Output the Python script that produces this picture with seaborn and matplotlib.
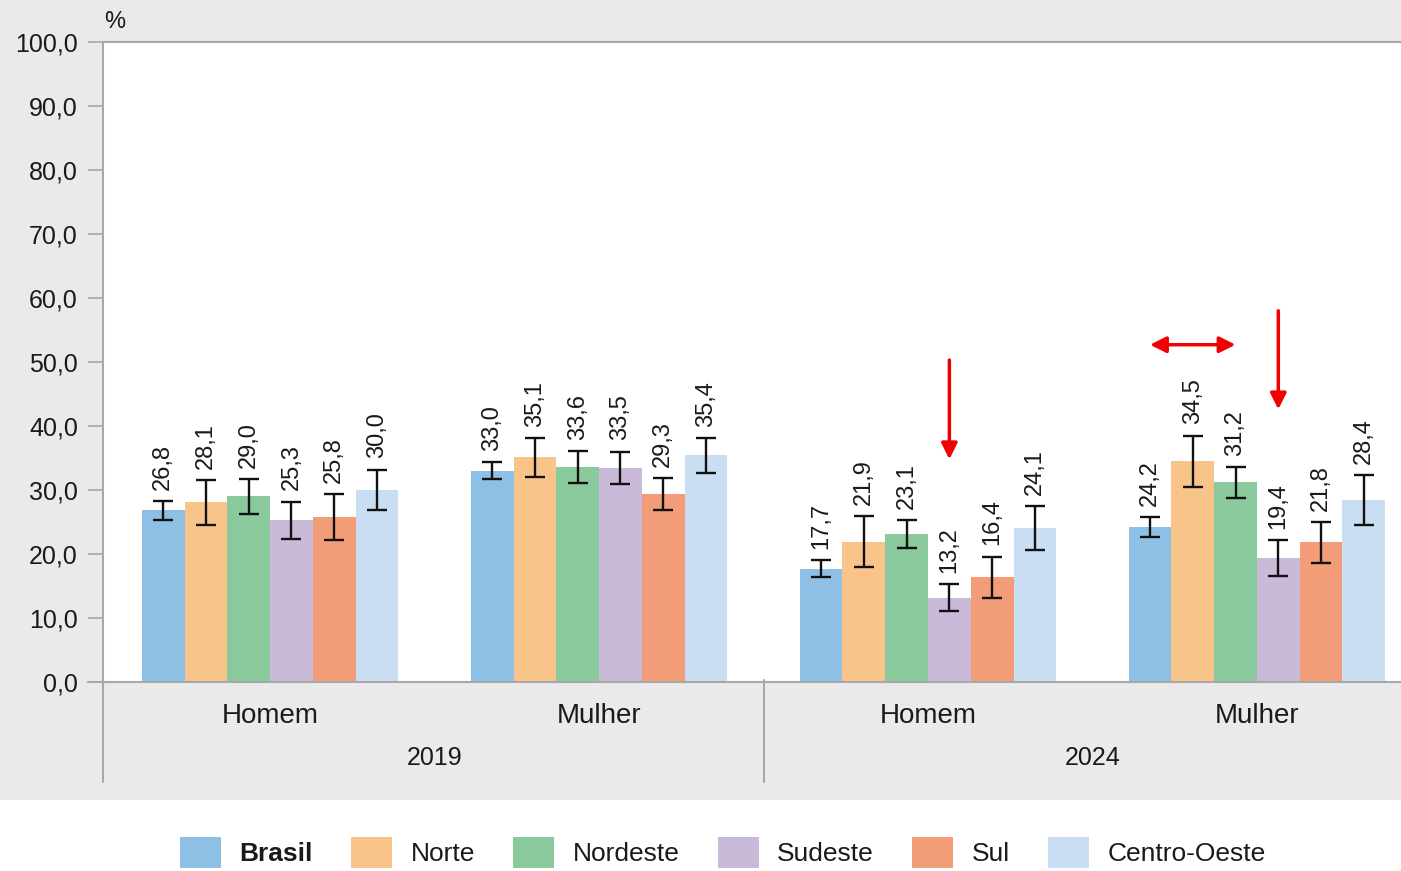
import pandas as pd
import numpy as np
import matplotlib.pyplot as plt
import matplotlib.transforms as mtransforms
from matplotlib.ticker import FuncFormatter
import seaborn as sns

# dados
grupos = ['2019 Homem', '2019 Mulher', '2024 Homem', '2024 Mulher']
rotulos_sexo = ['Homem', 'Mulher', 'Homem', 'Mulher']
anos = ['2019', '2024']
regioes = ['Brasil', 'Norte', 'Nordeste', 'Sudeste', 'Sul', 'Centro-Oeste']

brasil = [26.8, 33.0, 17.7, 24.2]
norte = [28.1, 35.1, 21.9, 34.5]
nordeste = [29.0, 33.6, 23.1, 31.2]
sudeste = [25.3, 33.5, 13.2, 19.4]
sul = [25.8, 29.3, 16.4, 21.8]
centro_oeste = [30.0, 35.4, 24.1, 28.4]

# meia-amplitude do intervalo de confiança (estimado)
erro_brasil = [1.5, 1.3, 1.3, 1.6]
erro_norte = [3.5, 3.0, 4.0, 4.0]
erro_nordeste = [2.7, 2.5, 2.2, 2.4]
erro_sudeste = [2.9, 2.5, 2.1, 2.8]
erro_sul = [3.6, 2.5, 3.2, 3.2]
erro_centro_oeste = [3.2, 2.7, 3.4, 3.9]

cores = ['#8EC0E6', '#F9C489', '#89C99C', '#C9BAD9', '#F29D77', '#C9DEF2']


def main():
    valores = [brasil, norte, nordeste, sudeste, sul, centro_oeste]
    erros = [erro_brasil, erro_norte, erro_nordeste, erro_sudeste, erro_sul, erro_centro_oeste]

    linhas = []
    for reg, vals, errs in zip(regioes, valores, erros):
        for g, v, e in zip(grupos, vals, errs):
            linhas.append({'grupo': g, 'regiao': reg, 'valor': v, 'erro': e})
    df = pd.DataFrame(linhas)

    sns.set_style('white')
    plt.rcParams['font.family'] = ['Liberation Sans', 'DejaVu Sans']

    cor_fundo = '#EAEAEA'
    cor_texto = '#1A1A1A'
    cor_linha = '#A8A8A8'

    fig = plt.figure(figsize=(14.01, 8.71), dpi=100)
    fig.patch.set_facecolor('white')
    fig.patches.append(plt.Rectangle((0, 1 - 800 / 871), 1, 800 / 871, transform=fig.transFigure,
                                     facecolor=cor_fundo, edgecolor='none', zorder=-10))

    ax = fig.add_axes([103 / 1401, 1 - 682 / 871, 1 - 103 / 1401, 640 / 871])
    ax.set_facecolor('white')

    sns.barplot(data=df, x='grupo', y='valor', hue='regiao', order=grupos, hue_order=regioes,
                palette=dict(zip(regioes, cores)), width=0.78, errorbar=None,
                saturation=1, linewidth=0, ax=ax)

    # barras de erro e rótulos
    for c, reg in enumerate(regioes):
        sub = df[df['regiao'] == reg].set_index('grupo').loc[grupos]
        cont = ax.containers[c]
        xs = [b.get_x() + b.get_width() / 2 for b in cont]
        ax.errorbar(xs, sub['valor'], yerr=sub['erro'], fmt='none', ecolor='#111111',
                    elinewidth=1.7, capsize=7, capthick=1.7, zorder=5)
        for x, v, e in zip(xs, sub['valor'], sub['erro']):
            ax.annotate(f"{v:.1f}".replace('.', ','), xy=(x, v + e), xytext=(0, 8),
                        textcoords='offset points', rotation=90, ha='center', va='bottom',
                        fontsize=17, color=cor_texto)

    ax.set_xlim(-0.508, 3.438)
    ax.set_ylim(0, 100)
    ax.set_yticks(np.arange(0, 101, 10))
    ax.yaxis.set_major_formatter(FuncFormatter(lambda v, _: f"{v:.1f}".replace('.', ',')))
    ax.set_xticks(range(len(grupos)))
    ax.set_xticklabels(rotulos_sexo)
    ax.set_xlabel('')
    ax.set_ylabel('')
    ax.tick_params(axis='y', length=11, width=1.2, color=cor_linha, pad=7,
                   labelsize=18, labelcolor=cor_texto, left=True)
    ax.tick_params(axis='x', length=0, pad=15, labelsize=20, labelcolor=cor_texto)

    for lado in ['left', 'top', 'bottom']:
        ax.spines[lado].set_color(cor_linha)
        ax.spines[lado].set_linewidth(1.5)
    ax.spines['right'].set_visible(False)

    # linhas separadoras abaixo do eixo
    ax.plot([0, 0], [0, -100 / 640], transform=ax.transAxes, color=cor_linha, lw=1.5, clip_on=False)
    trans = mtransforms.blended_transform_factory(ax.transData, ax.transAxes)
    ax.plot([1.5, 1.5], [0.003, -100 / 640], transform=trans, color=cor_linha, lw=1.5, clip_on=False)
    ax.plot([-0.508 - 15 / 329, -0.508], [0, 0], transform=trans, color=cor_linha, lw=1.5, clip_on=False)

    for i, ano in enumerate(anos):
        ax.text(2 * i + 0.5, -76 / 640, ano, transform=trans, ha='center', va='center',
                fontsize=18, color=cor_texto)

    ax.text(12 / 1298, 1.0 + 20 / 640, '%', transform=ax.transAxes,
            ha='center', va='center', fontsize=17, color=cor_texto)

    # setas vermelhas
    seta = dict(arrowstyle='-|>', color='#F00000', lw=2.5, mutation_scale=24, shrinkA=0, shrinkB=0)
    sud = ax.containers[3]
    for j, (y0, y1) in zip([2, 3], [(50.3, 34.8), (58.0, 42.6)]):
        b = sud[j]
        xc = b.get_x() + b.get_width() / 2
        ax.annotate('', xy=(xc, y1), xytext=(xc, y0), arrowprops=seta)
    b0 = ax.containers[0][3]
    b2 = ax.containers[2][3]
    seta2 = dict(seta, arrowstyle='<|-|>')
    ax.annotate('', xy=(b2.get_x() + b2.get_width() / 2, 52.7),
                xytext=(b0.get_x() + b0.get_width() / 2, 52.7), arrowprops=seta2)

    handles, labels = ax.get_legend_handles_labels()
    ax.get_legend().remove()
    leg = fig.legend(handles, labels, loc='center', bbox_to_anchor=(0.516, 0.021), ncol=6,
                     frameon=False, fontsize=19, handlelength=1.55, handleheight=1.45,
                     handletextpad=0.7, columnspacing=1.45)
    for t in leg.get_texts():
        t.set_color(cor_texto)
    leg.get_texts()[0].set_fontweight('bold')

    fig.savefig('out.png', dpi=100, facecolor=fig.get_facecolor())


if __name__ == '__main__':
    main()
